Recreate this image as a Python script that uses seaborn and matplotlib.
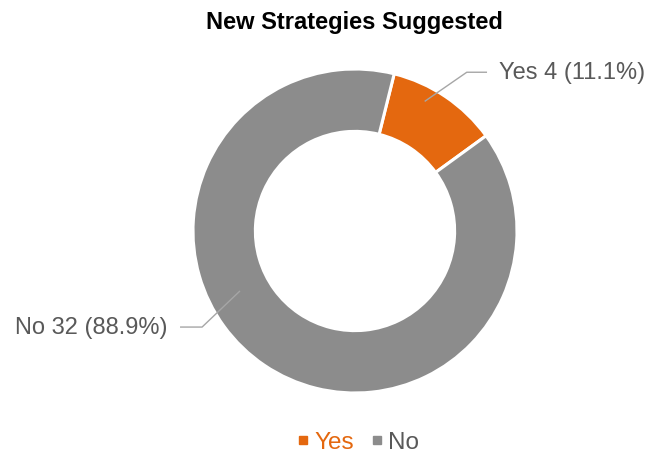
import matplotlib
matplotlib.use("Agg")
import matplotlib.pyplot as plt
import seaborn as sns
import numpy as np
from matplotlib.lines import Line2D

# Data
categories = ["Yes", "No"]
counts = [4, 32]
colors = ["#E4680F", "#8C8C8C"]
title = "New Strategies Suggested"

sns.set_theme(style="white")
plt.rcParams['font.family'] = ['Liberation Sans', 'DejaVu Sans']

W, H = 654, 456
fig = plt.figure(figsize=(W / 100, H / 100), dpi=100)
cx, cy, R = 355, 456 - 232, 162
ax = fig.add_axes([(cx - R) / W, (cy - R) / H, 2 * R / W, 2 * R / H])

wedges, _ = ax.pie(counts, colors=colors, startangle=90 - 14, counterclock=False,
                   radius=1.0, wedgeprops=dict(width=0.385, edgecolor='white', linewidth=2.2))
ax.set_xlim(-1, 1)
ax.set_ylim(-1, 1)
ax.set_aspect('equal')
ax.axis('off')

total = sum(counts)
text_color = "#595959"
line_color = "#A6A6A6"

# leader lines & labels (in data units relative to donut radius)
label_specs = [
    # start point, elbow, end, text pos, ha
    ((0.43, 0.80), (0.69, 0.98), (0.815, 0.98), (0.89, 0.98), 'left'),
    ((-0.71, -0.37), (-0.944, -0.593), (-1.08, -0.593), (-1.16, -0.593), 'right'),
]
for cat, cnt, spec in zip(categories, counts, label_specs):
    p0, p1, p2, pt, ha = spec
    ax.plot([p0[0], p1[0], p2[0]], [p0[1], p1[1], p2[1]], color=line_color, lw=1.0,
            clip_on=False, solid_capstyle='butt')
    ax.text(pt[0], pt[1], f"{cat} {cnt} ({cnt / total * 100:.1f}%)", ha=ha, va='center',
            fontsize=17, color=text_color, clip_on=False)

fig.text(354 / W, 1 - 22 / H, title, ha='center', va='center', fontsize=17,
         fontweight='bold', color='black')

handles = [Line2D([0], [0], marker='s', linestyle='', markersize=5.5,
                  markerfacecolor=c, markeredgecolor=c) for c in colors]
leg = fig.legend(handles, categories, loc='center', bbox_to_anchor=(358 / W, 13 / H),
                 ncol=2, frameon=False, fontsize=17.5, handlelength=0.5, handletextpad=0.2,
                 columnspacing=0.7, labelcolor=[colors[0], text_color])

fig.savefig("out.png", dpi=100, facecolor='white')
